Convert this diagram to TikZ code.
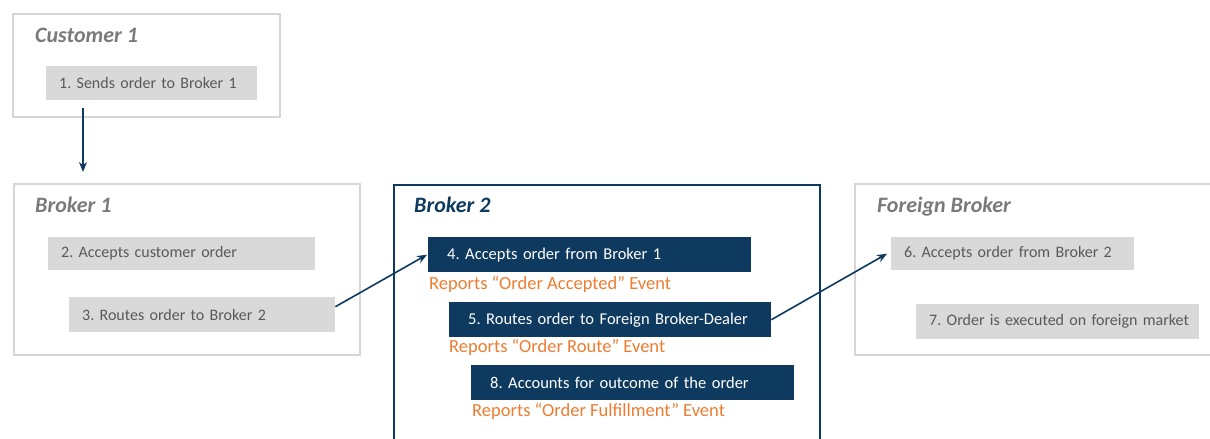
\documentclass[tikz,border=0pt]{standalone}
\usepackage{fontspec}
\setmainfont{Carlito}
\usetikzlibrary{arrows.meta}
\definecolor{navy}{HTML}{0F3A5F}
\definecolor{stepgray}{HTML}{D9D9D9}
\definecolor{framegray}{HTML}{D6D6D6}
\definecolor{textgray}{HTML}{595959}
\definecolor{titlegray}{HTML}{7A7A7A}
\definecolor{evorange}{HTML}{ED7D31}
\frenchspacing
\tikzset{
  group/.style={draw=framegray,line width=2pt,anchor=north west,inner sep=0pt},
  grouptitle/.style={anchor=base west,inner sep=0pt,text=titlegray,
    font=\fontsize{22}{26}\selectfont\bfseries\itshape},
  gstep/.style={fill=stepgray,text=textgray,anchor=north west,inner xsep=0pt,
    align=left,font=\fontsize{16}{20}\selectfont,
    execute at begin node={\hspace*{13pt}}},
  nstep/.style={fill=navy,text=white,anchor=north west,inner xsep=0pt,
    align=left,font=\fontsize{16.5}{20}\selectfont,
    execute at begin node={\hspace*{19pt}}},
  event/.style={anchor=base west,inner sep=0pt,text=evorange,
    font=\fontsize{18.5}{22}\selectfont},
  flow/.style={draw=navy,line width=1.6pt,-{Stealth[length=10pt,width=8pt]}}
}
\begin{document}
\begin{tikzpicture}[x=1pt,y=-1pt]
\useasboundingbox[fill=white] (0,0) rectangle (1210,439);
% customer
\node[group,minimum width=267pt,minimum height=103pt] (cust) at (12,13) {};
\node[grouptitle] (custT) at (35,42) {Customer 1};
\node[gstep,text width=211pt,minimum height=34pt] (s1) at (46,66) {1. Sends order to Broker 1};
% broker 1
\node[group,minimum width=346pt,minimum height=171pt] (bro1) at (13,183) {};
\node[grouptitle] (bro1T) at (35,212) {Broker 1};
\node[gstep,text width=267pt,minimum height=33pt] (s2) at (48,237) {2. Accepts customer order};
\node[gstep,text width=266pt,minimum height=35pt] (s3) at (69,297) {3. Routes order to Broker 2};
% broker 2
\node[group,draw=navy,minimum width=426pt,minimum height=280pt] (bro2) at (393,184) {};
\node[grouptitle,text=navy] (bro2T) at (414,212) {Broker 2};
\node[nstep,text width=323pt,minimum height=35pt] (s4) at (428,237) {4. Accepts order from Broker 1};
\node[event] (e4) at (429,289) {Reports “Order Accepted” Event};
\node[nstep,text width=322pt,minimum height=35pt] (s5) at (449,302) {5. Routes order to Foreign Broker-Dealer};
\node[event] (e5) at (449,352) {Reports “Order Route” Event};
\node[nstep,text width=323pt,minimum height=35pt] (s8) at (471,365) {8. Accounts for outcome of the order};
\node[event] (e8) at (472,416) {Reports “Order Fulfillment” Event};
% foreign broker
\node[group,minimum width=370pt,minimum height=171pt] (forb) at (854,183) {};
\node[grouptitle] (forbT) at (877,212) {Foreign Broker};
\node[gstep,text width=243pt,minimum height=33pt] (s6) at (891,237) {6. Accepts order from Broker 2};
\node[gstep,text width=283pt,minimum height=35pt] (s7) at (916,304) {7. Order is executed on foreign market};
% arrows
\draw[flow] ([xshift=37pt,yshift=-8pt]s1.south west) -- ([xshift=70pt,yshift=11pt]bro1.north west);
\draw[flow] ([yshift=8pt]s3.east) -- ([xshift=-1pt]s4.west);
\draw[flow] (s5.east) -- ([xshift=-4pt]s6.west);
\end{tikzpicture}
\end{document}
